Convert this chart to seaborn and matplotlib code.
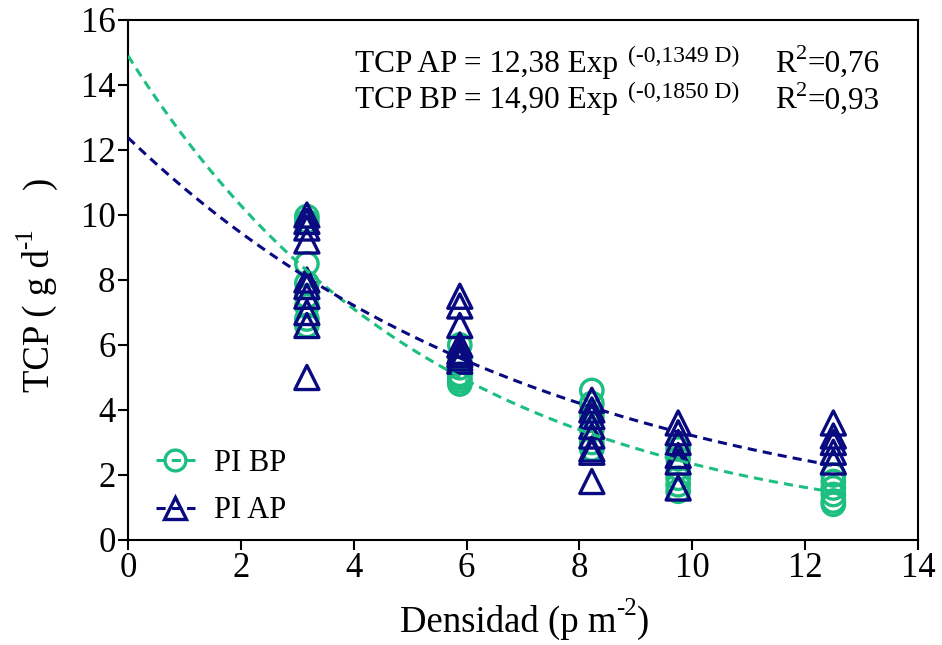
import numpy as np
import pandas as pd
import matplotlib
matplotlib.use("Agg")
import matplotlib.pyplot as plt
from matplotlib.lines import Line2D
from matplotlib.transforms import offset_copy
import seaborn as sns

# Plant density levels (plants per m2)
densities = [3.17, 5.88, 8.22, 9.75, 12.5]

# Crop growth rate per plant, PI BP (circles)
bp_values = [
    [9.95, 9.8, 8.5, 7.9, 7.5, 7.2, 6.8, 6.6],
    [6.0, 5.6, 5.3, 5.1, 5.0, 4.9, 4.8],
    [4.6, 4.2, 3.8, 3.4, 3.0, 2.8],
    [2.8, 2.5, 2.2, 1.9, 1.7, 1.5],
    [2.0, 1.8, 1.6, 1.4, 1.2, 1.1],
]
# Crop growth rate per plant, PI AP (triangles)
ap_values = [
    [10.0, 9.8, 9.6, 9.2, 8.0, 7.8, 7.5, 7.0, 6.6, 5.0],
    [7.5, 7.2, 6.6, 6.0, 5.8, 5.7, 5.6, 5.5],
    [4.3, 4.0, 3.8, 3.5, 3.2, 2.8, 2.7, 1.8],
    [3.6, 3.3, 3.0, 2.6, 2.4, 1.6],
    [3.6, 3.2, 3.0, 2.7, 2.4],
]

# Exponential fits: TCP = a * exp(b * D)
fit_ap = (12.38, -0.1349)
fit_bp = (14.90, -0.1850)

green = "#1dbf80"
navy = "#0a0a80"

sns.set_theme(style="white")
plt.rcParams["font.family"] = ["Liberation Serif", "DejaVu Serif"]
for key in ["text.color", "axes.labelcolor", "xtick.color", "ytick.color"]:
    plt.rcParams[key] = "black"

def to_frame(vals):
    xs, ys = [], []
    for d, group in zip(densities, vals):
        xs += [d] * len(group)
        ys += group
    return pd.DataFrame({"D": xs, "TCP": ys})

df_bp = to_frame(bp_values)
df_ap = to_frame(ap_values)

fig = plt.figure(figsize=(9.42, 6.45), dpi=100)
ax = fig.add_axes([0.1359, 0.1628, 0.8386, 0.8062])
renderer = fig.canvas.get_renderer()

sns.scatterplot(data=df_bp, x="D", y="TCP", marker="o", s=260,
                facecolors="none", edgecolor=green, linewidth=2.4, ax=ax, zorder=2)
sns.scatterplot(data=df_ap, x="D", y="TCP", marker="^", s=300,
                facecolors="none", edgecolor=navy, linewidth=2.4, ax=ax, zorder=3)

dgrid = np.linspace(0, 12.5, 200)
curves = pd.DataFrame({
    "D": dgrid,
    "BP": fit_bp[0] * np.exp(fit_bp[1] * dgrid),
    "AP": fit_ap[0] * np.exp(fit_ap[1] * dgrid),
})
sns.lineplot(data=curves, x="D", y="BP", color=green, lw=2.2,
             ax=ax, zorder=4).lines[-1].set_dashes([3, 2])
sns.lineplot(data=curves, x="D", y="AP", color=navy, lw=2.2,
             ax=ax, zorder=4).lines[-1].set_dashes([3, 2])

ax.set_xlim(0, 14)
ax.set_ylim(0, 16)
ax.set_xticks(np.arange(0, 15, 2))
ax.set_yticks(np.arange(0, 17, 2))
ax.tick_params(axis="both", which="both", direction="out", length=7, width=1.5,
               labelsize=25, bottom=True, left=True, pad=2)
for sp in ax.spines.values():
    sp.set_visible(True)
    sp.set_color("black")
    sp.set_linewidth(1.5)
ax.set_xlabel("")
ax.set_ylabel("")


def text_with_sup(x, y, base, sup, size, sup_size, rise, transform, rotation=0,
                  tail="", gap=0.0, tail_gap=0.0):
    """Draw base text followed by a raised smaller superscript (and optional tail)."""
    t = fig.text(x, y, base, fontsize=size, ha="left", va="baseline",
                 transform=transform, rotation=rotation, rotation_mode="anchor")
    bb = t.get_window_extent(renderer)
    if rotation == 0:
        w = bb.width / fig.dpi * 72 + gap
        tr = offset_copy(transform, fig=fig, x=w, y=rise, units="points")
    else:
        h = bb.height / fig.dpi * 72 + gap
        tr = offset_copy(transform, fig=fig, x=-rise, y=h, units="points")
    s = fig.text(x, y, sup, fontsize=sup_size, ha="left", va="baseline",
                 transform=tr, rotation=rotation, rotation_mode="anchor")
    if tail:
        bb2 = s.get_window_extent(renderer)
        if rotation == 0:
            w2 = (bb.width + bb2.width) / fig.dpi * 72 + gap + tail_gap
            tr2 = offset_copy(transform, fig=fig, x=w2, y=0, units="points")
        else:
            h2 = (bb.height + bb2.height) / fig.dpi * 72 + gap + tail_gap
            tr2 = offset_copy(transform, fig=fig, x=0, y=h2, units="points")
        fig.text(x, y, tail, fontsize=size, ha="left", va="baseline",
                 transform=tr2, rotation=rotation, rotation_mode="anchor")

# Axis titles
text_with_sup(400 / 942, 1 - 632 / 645, "Densidad (p m", "-2", 26.5, 18, 12,
              fig.transFigure, tail=")")
text_with_sup(49 / 942, 1 - 392 / 645, "TCP ( g d", "-1", 26.5, 18, 12,
              fig.transFigure, rotation=90, tail=")", tail_gap=28)

# Fitted equations
text_with_sup(4.02, 14.4, "TCP AP = 12,38 Exp", "(-0,1349 D)", 22.5, 17, 7.5,
              ax.transData, gap=7)
text_with_sup(4.02, 13.28, "TCP BP = 14,90 Exp", "(-0,1850 D)", 22.5, 17, 7.5,
              ax.transData, gap=7)
text_with_sup(11.47, 14.4, "R", "2", 22.5, 16, 9, ax.transData, tail="=0,76")
text_with_sup(11.47, 13.28, "R", "2", 22.5, 16, 9, ax.transData, tail="=0,93")

handles = [
    Line2D([], [], color=green, ls=(0, (3, 2)), lw=2.2, marker="o", ms=15,
           mfc="none", mec=green, mew=2.4),
    Line2D([], [], color=navy, ls=(0, (3, 2)), lw=2.2, marker="^", ms=16,
           mfc="none", mec=navy, mew=2.4),
]
ax.legend(handles, ["PI BP", "PI AP"], loc="lower left",
          bbox_to_anchor=(0.0, -0.025), frameon=False, fontsize=22,
          handlelength=1.3, handletextpad=0.6, labelspacing=0.6)

fig.savefig("out.png", dpi=100)
